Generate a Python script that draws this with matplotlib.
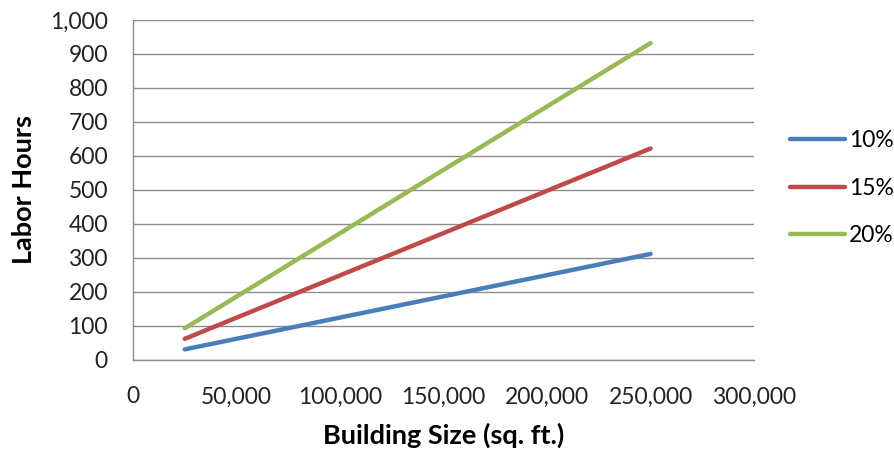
import matplotlib.pyplot as plt
from matplotlib.ticker import FuncFormatter

plt.rcParams['font.family'] = ['Lato', 'DejaVu Sans']

# building size in sq. ft. and labor hours for each percentage
building_size = [25000, 250000]
hours_10 = [31.2, 312]
hours_15 = [62.2, 622]
hours_20 = [93.2, 932]
series_names = ['10%', '15%', '20%']
colors = ['#4A7EBB', '#BE4B48', '#98B954']

fig = plt.figure(figsize=(8.95, 4.51), dpi=100)
ax = fig.add_axes([0.1486, 0.2018, 0.6939, 0.7539])

for ys, name, c in zip([hours_10, hours_15, hours_20], series_names, colors):
    ax.plot(building_size, ys, color=c, lw=3.2, solid_capstyle='round', label=name)

ax.set_xlim(0, 300000)
ax.set_ylim(0, 1000)
ax.set_xticks(range(0, 300001, 50000))
ax.set_yticks(range(0, 1001, 100))
comma = FuncFormatter(lambda v, p: f'{int(v):,}')
ax.xaxis.set_major_formatter(comma)
ax.yaxis.set_major_formatter(comma)
ax.tick_params(length=0, labelsize=16.5, colors='#222222')
ax.tick_params(axis='x', pad=19)
ax.tick_params(axis='y', pad=18)

ax.grid(axis='y', color='#8c8c8c', lw=1)
ax.set_axisbelow(True)
for s in ['top', 'right']:
    ax.spines[s].set_visible(False)
for s in ['left', 'bottom']:
    ax.spines[s].set_color('#8c8c8c')
    ax.spines[s].set_linewidth(1)

ax.set_xlabel('Building Size (sq. ft.)', fontsize=19.5, fontweight='bold', labelpad=11)
ax.set_ylabel('Labor Hours', fontsize=19.5, fontweight='bold', labelpad=10)

ax.legend(loc='center left', bbox_to_anchor=(1.025, 0.505), frameon=False,
          fontsize=16.5, handlelength=2.4, handletextpad=0.15, labelspacing=1.15)

fig.savefig('out.png', dpi=100)
